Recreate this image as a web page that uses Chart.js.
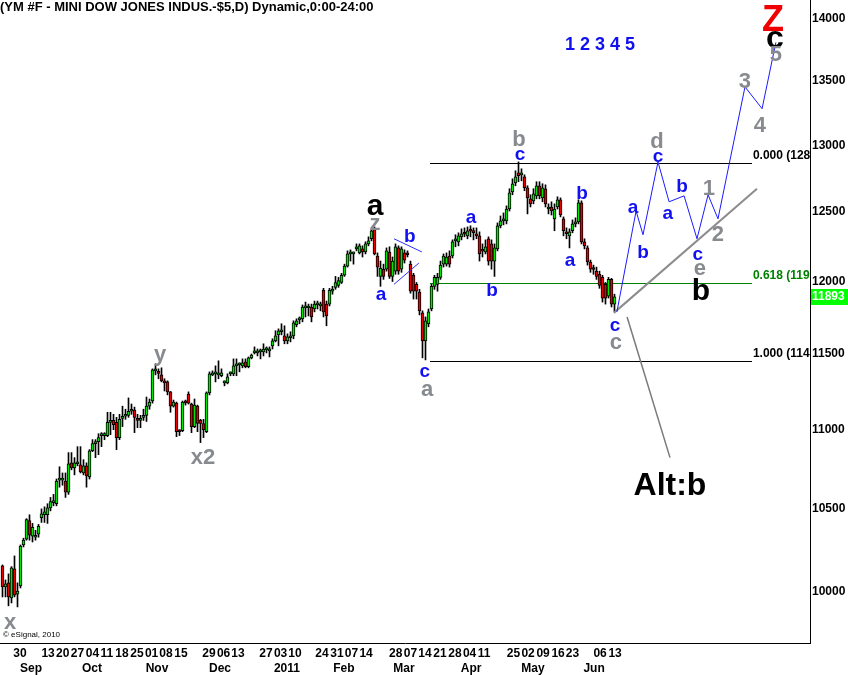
<!DOCTYPE html>
<html><head><meta charset="utf-8">
<script src="https://cdn.jsdelivr.net/npm/chart.js@4.4.1/dist/chart.umd.min.js"></script>
<style>html,body{margin:0;padding:0;background:#fff;}#wrap{width:848px;height:675px;}</style>
</head><body><div id="wrap"><canvas id="c" width="848" height="675"></canvas></div>
<script>
// ---- daily OHLC (bar index 0..204) ----
const opens = [10155,10030,10054,9965,10137,9988,10036,10280,10315,10428,
10333,10327,10345,10446,10464,10464,10506,10538,10532,10679,
10679,10673,10603,10788,10756,10782,10776,10724,10769,10699,
10865,10910,10923,10962,10962,10962,11047,11060,11047,10949,
11073,11087,11093,11120,11127,11073,11060,11080,11093,11153,
11187,11387,11374,11360,11313,11313,11247,11153,11173,10994,
10994,11180,11233,11167,11020,11153,11060,11040,10987,11240,
11360,11367,11360,11354,11307,11307,11367,11367,11420,11427,
11420,11447,11414,11474,11507,11507,11514,11514,11528,11521,
11555,11589,11630,11651,11623,11589,11610,11623,11699,11733,
11740,11815,11815,11822,11808,11836,11829,11938,11842,11842,
11932,11959,11973,11993,12044,12109,12196,12196,12232,12203,
12232,12210,12268,12305,12377,12181,12036,12087,12087,12210,
12036,12073,12239,12087,12203,12196,12123,12044,11980,11925,
11781,11589,11706,11808,11966,11980,12029,12123,12123,12181,
12181,12290,12283,12319,12341,12326,12363,12355,12341,12326,
12218,12210,12305,12268,12145,12232,12399,12435,12435,12522,
12649,12716,12791,12776,12761,12679,12597,12582,12619,12694,
12604,12672,12522,12537,12450,12537,12590,12450,12355,12326,
12363,12413,12428,12567,12283,12239,12138,12087,12073,12051,
12029,11980,11897,12015,11842];
const highs = [10160,10071,10107,10150,10214,10054,10280,10321,10440,10464,
10411,10369,10405,10500,10513,10532,10571,10590,10686,10763,
10724,10724,10853,10853,10821,10891,10891,10808,10788,10872,
10936,10936,10974,10981,10981,11113,11113,11100,11080,11100,
11153,11133,11207,11167,11147,11100,11093,11133,11213,11200,
11400,11434,11400,11407,11334,11320,11250,11193,11180,11000,
11187,11193,11247,11173,11200,11160,11067,11067,11247,11380,
11387,11420,11454,11400,11320,11367,11380,11467,11467,11440,
11467,11467,11480,11500,11548,11534,11534,11569,11548,11548,
11603,11658,11671,11706,11692,11637,11651,11726,11740,11753,
11836,11856,11842,11842,11863,11863,11856,11952,11863,11952,
11966,12036,12029,12058,12123,12218,12225,12210,12268,12268,
12254,12283,12319,12377,12391,12203,12145,12123,12239,12247,
12174,12268,12254,12247,12225,12218,12145,12058,11993,11945,
11795,11753,11808,11980,12044,12058,12145,12196,12203,12218,
12297,12334,12348,12377,12384,12391,12399,12384,12384,12355,
12268,12297,12319,12297,12268,12420,12471,12493,12545,12672,
12746,12806,12873,12821,12776,12694,12627,12672,12724,12724,
12709,12701,12560,12575,12560,12612,12604,12464,12384,12377,
12442,12457,12590,12582,12305,12254,12152,12116,12102,12073,
12044,11993,12029,12022,11911];
const lows = [9971,9971,9919,9936,9971,9913,10024,10268,10309,10309,
10298,10309,10327,10417,10417,10411,10488,10519,10519,10635,
10647,10571,10590,10744,10712,10769,10724,10712,10635,10686,
10859,10821,10840,10891,10936,10955,10968,11000,10872,10936,
11020,11067,11080,11100,10981,11013,11013,11060,11053,11133,
11173,11360,11334,11313,11253,11227,11113,11147,10955,10962,
10987,11160,11167,10981,11013,10987,10917,10949,10981,11227,
11354,11313,11334,11347,11287,11300,11354,11354,11354,11380,
11407,11407,11407,11467,11500,11487,11467,11487,11507,11480,
11534,11582,11555,11630,11569,11569,11582,11603,11685,11706,
11719,11753,11760,11719,11788,11808,11795,11753,11692,11829,
11911,11945,11959,11986,12036,12102,12145,12123,12218,12196,
12174,12196,12254,12290,12189,12036,11966,12015,12073,12022,
12000,12051,12051,12065,12131,12174,11918,11877,11877,11767,
11474,11460,11685,11795,11945,11932,12015,12102,12109,12102,
12167,12247,12254,12297,12319,12305,12319,12297,12305,12145,
12174,12196,12116,12087,12036,12218,12384,12406,12413,12507,
12627,12694,12724,12731,12657,12486,12537,12560,12597,12597,
12575,12537,12486,12478,12363,12522,12464,12326,12305,12239,
12348,12391,12413,12268,12232,12116,12065,12051,12015,11952,
11856,11842,11884,11822,11788];
const closes = [10030,10048,9971,10143,9982,10006,10274,10309,10434,10339,
10387,10339,10393,10470,10482,10506,10545,10551,10673,10692,
10692,10603,10782,10756,10788,10788,10731,10769,10705,10865,
10910,10917,10949,10968,10968,11047,11053,11033,10949,11067,
11087,11100,11120,11127,11080,11060,11067,11093,11153,11180,
11394,11390,11370,11320,11307,11247,11153,11180,10987,10987,
11180,11175,11173,11020,11160,11040,11040,11000,11240,11367,
11374,11370,11362,11374,11310,11347,11370,11420,11427,11430,
11440,11414,11474,11493,11521,11510,11516,11534,11530,11523,
11589,11623,11658,11664,11589,11616,11612,11712,11726,11735,
11822,11829,11817,11753,11842,11838,11830,11788,11760,11938,
11945,11993,12007,12044,12109,12196,12203,12203,12247,12254,
12210,12268,12290,12363,12196,12102,12094,12036,12218,12036,
12145,12247,12073,12232,12152,12190,11932,11932,11932,11795,
11589,11726,11788,11966,12029,12029,12116,12181,12174,12123,
12283,12305,12326,12341,12338,12363,12360,12350,12326,12196,
12215,12247,12145,12145,12239,12399,12435,12442,12522,12642,
12709,12761,12769,12783,12679,12604,12560,12634,12694,12619,
12679,12560,12537,12507,12522,12590,12478,12363,12341,12355,
12413,12428,12567,12283,12254,12138,12087,12085,12036,11973,
11884,11884,12015,11842,11893];

// ---- axis ticks ----
const yTickValues = [10000,10500,11000,11500,12000,12500,13000,13500,14000];
const dayTickLabels = ['30','13','20','27','04','11','18','25','01','08','15','29','06','13','27','03','10','24','31','07','14','28','07','14','21','28','04','11','25','02','09','16','23','06','13'];
const dayTickIdx = [5.8,15.2,20.1,25.0,30.0,34.8,39.8,44.8,49.7,54.5,59.5,68.8,73.7,78.5,87.8,92.7,97.5,106.5,111.5,116.3,121.2,131.1,136.0,140.8,145.8,150.8,155.7,160.5,170.3,175.2,180.2,185.2,190.0,199.2,204.2];
const monthTickLabels = ['Sep','Oct','Nov','Dec','2011','Feb','Mar','Apr','May','Jun'];
const monthTickIdx = [9.5,29.8,51.5,72.5,94.8,113.8,133.8,156.2,176.8,197.2];

// ---- projected wave path ----
const projIdx = [204.8,211.2,213.5,218.5,222.2,227.2,231.5,235.2,238.5,247.5,253.2,257.8];
const projPrice = [11788,12507,12334,12873,12575,12619,12305,12627,12450,13453,13282,13809];
// ---- trend / alt lines ----
const trendIdx = [203.8,251.5];  const trendPrice = [11781,12672];
const altIdx = [208.2,222.5];    const altPrice = [11753,10821];
const triUpIdx = [130.5,139.8];  const triUpPrice = [12305,12210];
const triLoIdx = [130.5,138.8];  const triLoPrice = [11980,12131];
// ---- fibonacci ----
const fibRatios = ['0.000','0.618','1.000'];
const fibLevels = [12865,11992,11453];
const fibSpan = [142.5,249.8];
const lastPrice = 11893;

const FONT = '"Liberation Sans", Arial, Helvetica, sans-serif';
Chart.defaults.font.family = FONT;
const BLUE='#1010f0', GREY='#878a8e', BLACK='#000';
const waveLabels = [
 ['Z',256.8,14024,'#f00000',36], ['c',257.5,13865,BLACK,32], ['5',257.8,13730,GREY,22],
 ['3',247.5,13516,GREY,22], ['4',252.5,13172,GREY,22], ['1 2 3 4 5',199.2,13802,BLUE,18],
 ['d',218.2,13047,GREY,22], ['c',218.5,12925,BLUE,19], ['b',172.2,13062,GREY,22], ['c',172.5,12940,BLUE,19],
 ['a',124.2,12567,BLACK,30], ['z',124.2,12435,GREY,22], ['b',135.8,12334,BLUE,19], ['a',126.2,11918,BLUE,19],
 ['c',140.8,11394,BLUE,19], ['a',141.5,11280,GREY,22], ['a',156.2,12471,BLUE,19], ['b',163.2,11952,BLUE,19],
 ['b',193.2,12649,BLUE,19], ['a',189.2,12160,BLUE,19], ['a',210.2,12545,BLUE,19], ['b',213.5,12218,BLUE,19],
 ['a',221.8,12500,BLUE,19], ['b',226.5,12701,BLUE,19], ['c',231.8,12203,BLUE,19], ['1',235.5,12694,GREY,22],
 ['2',238.5,12355,GREY,22], ['e',232.5,12109,GREY,22], ['b',232.8,11959,BLACK,30], ['c',204.2,11706,BLUE,19],
 ['c',204.5,11596,GREY,22], ['y',52.5,11514,GREY,22], ['x2',66.8,10840,GREY,22], ['x',2.5,9838,GREY,22],
 ['Alt:b',222.5,10667,BLACK,32]
];

const wickData = lows.map((l,i)=>({x:i, y:[l, highs[i]]}));
const bodyData = opens.map((o,i)=>({x:i, y:[o, closes[i]]}));
const bodyColors = opens.map((o,i)=> closes[i] >= o ? '#00e600' : '#e80000');
const pts = (xs,ys)=>xs.map((x,i)=>({x, y:ys[i]}));

const annot = {
  id:'annot',
  beforeDatasetsDraw(chart){
    const {ctx, chartArea:a, scales:{x,y}} = chart;
    ctx.save();
    ctx.lineWidth = 1;
    const x0 = Math.round(x.getPixelForValue(fibSpan[0])), x1 = Math.round(x.getPixelForValue(fibSpan[1]));
    fibLevels.forEach((lv,i)=>{
      const py = Math.round(y.getPixelForValue(lv)) + 0.5;
      ctx.strokeStyle = i===1 ? '#008000' : '#000';
      ctx.beginPath(); ctx.moveTo(x0, py); ctx.lineTo(x1, py); ctx.stroke();
    });
    ctx.restore();
  },
  afterDatasetsDraw(chart){
    const {ctx, chartArea:a, scales:{x,y}} = chart;
    ctx.save();
    ctx.beginPath(); ctx.rect(a.left,a.top,a.right-a.left,a.bottom-a.top); ctx.clip();
    ctx.font = 'bold 12px '+FONT; ctx.textAlign='left'; ctx.textBaseline='bottom';
    fibLevels.forEach((lv,i)=>{
      ctx.fillStyle = i===1 ? '#008000' : '#000';
      ctx.fillText(fibRatios[i]+' ('+lv.toFixed(2)+')', x.getPixelForValue(fibSpan[1])+1, Math.round(y.getPixelForValue(lv))-1);
    });
    ctx.textAlign='left'; ctx.textBaseline='middle'; ctx.font='8px '+FONT; ctx.fillStyle='#000';
    ctx.fillText('\u00a9 eSignal, 2010', 3, a.bottom-8);
    ctx.restore();
    ctx.save();
    ctx.textAlign='center'; ctx.textBaseline='middle';
    waveLabels.forEach(([t,i,p,c,s])=>{
      ctx.font = 'bold '+s+'px '+FONT; ctx.fillStyle=c;
      ctx.fillText(t, x.getPixelForValue(i), y.getPixelForValue(p) + Math.round(s*0.13));
    });
    ctx.restore();
  },
  afterDraw(chart){
    const {ctx, chartArea:a, scales:{y}} = chart;
    ctx.save();
    ctx.font='bold 13px '+FONT; ctx.fillStyle='#000'; ctx.textAlign='left'; ctx.textBaseline='middle';
    ctx.fillText('(YM #F - MINI DOW JONES INDUS.-$5,D) Dynamic,0:00-24:00', 0, 7);
    ctx.font='bold 12px '+FONT;
    const py = Math.round(y.getPixelForValue(lastPrice));
    ctx.fillStyle='#00ff00'; ctx.fillRect(a.right+1, py-8, 848-a.right-1, 16);
    ctx.fillStyle='#fff'; ctx.fillText(String(lastPrice), a.right+2, py);
    ctx.restore();
  }
};

const lineDs = (data,color,w,order)=>({type:'line', data, borderColor:color, borderWidth:w, pointRadius:0, fill:false, tension:0, order});

new Chart(document.getElementById('c'), {
  type:'bar',
  data:{datasets:[
    lineDs(pts(projIdx,projPrice),'#1a1aff',1,0),
    lineDs(pts(trendIdx,trendPrice),'#8c8c8c',2,0),
    lineDs(pts(altIdx,altPrice),'#7a7a7a',1.5,0),
    lineDs(pts(triUpIdx,triUpPrice),'#3030ff',1,0),
    lineDs(pts(triLoIdx,triLoPrice),'#3030ff',1,0),
    {label:'body', data:bodyData, backgroundColor:bodyColors, borderColor:'#000', borderWidth:1, borderSkipped:false, barThickness:3, grouped:false, minBarLength:2, order:5},
    {label:'wick', data:wickData, backgroundColor:'#000', borderWidth:0, barThickness:1, grouped:false, order:6}
  ]},
  options:{
    responsive:false, animation:false, devicePixelRatio:1,
    layout:{padding:0},
    plugins:{legend:{display:false}, tooltip:{enabled:false}},
    scales:{
      x:{type:'linear', display:true, position:'bottom', weight:0, min:-0.833, max:269.17, offset:false,
        grid:{display:false, drawTicks:false}, border:{display:true, color:'#000', width:1},
        ticks:{autoSkip:false, maxRotation:0, minRotation:0, padding:3, color:'#000', font:{size:12, weight:'bold'}, callback:(v,i)=>dayTickLabels[i]},
        afterBuildTicks:s=>{s.ticks = dayTickIdx.map(v=>({value:v}));},
        afterFit:s=>{s.height=16; s.paddingLeft=0; s.paddingRight=0;}},
      x2:{type:'linear', display:true, position:'bottom', weight:1, min:-0.833, max:269.17, offset:false,
        grid:{display:false, drawTicks:false}, border:{display:false},
        ticks:{autoSkip:false, maxRotation:0, minRotation:0, padding:2, color:'#000', font:{size:12, weight:'bold'}, callback:(v,i)=>monthTickLabels[i]},
        afterBuildTicks:s=>{s.ticks = monthTickIdx.map(v=>({value:v}));},
        afterFit:s=>{s.height=16; s.paddingLeft=0; s.paddingRight=0;}},
      y:{type:'logarithmic', position:'right', min:9705, max:14157,
        grid:{display:false, drawTicks:false}, border:{display:true, color:'#000', width:1},
        ticks:{padding:2, color:'#000', font:{size:12, weight:'bold'}, callback:v=>String(v)},
        afterBuildTicks:s=>{s.ticks = yTickValues.map(v=>({value:v}));},
        afterFit:s=>{s.width=38; s.paddingTop=0; s.paddingBottom=0;}}
    }
  },
  plugins:[annot]
});
</script></body></html>
